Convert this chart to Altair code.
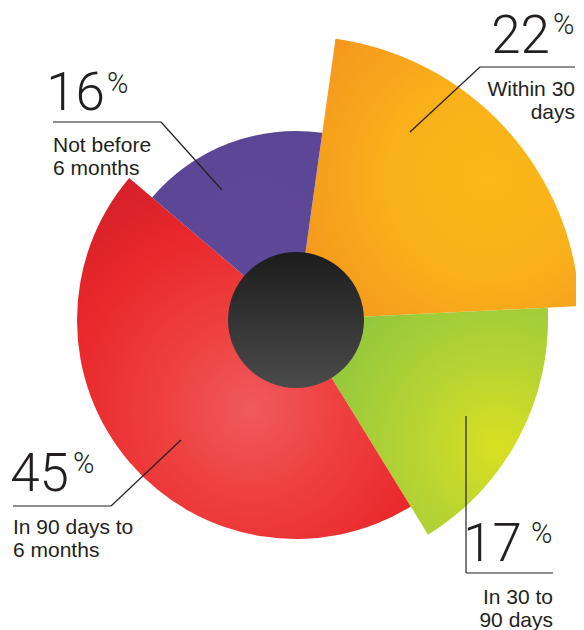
import math
import altair as alt
import pandas as pd

# ---- data ----
categories = ["Within 30 days", "In 30 to 90 days", "In 90 days to 6 months", "Not before 6 months"]
label_text = ["Within 30\ndays", "In 30 to\n90 days", "In 90 days to\n6 months", "Not before\n6 months"]
values = [22, 17, 45, 16]

# ---- layout / style (page coordinates) ----
OFF = 8  # page margin
VIEW_W, VIEW_H = 568, 622
CX, CY = 296 - OFF, 320 - OFF
START_DEG = 8
outer_radius = {"Within 30 days": 284, "In 30 to 90 days": 252,
                "In 90 days to 6 months": 219, "Not before 6 months": 189}
fills = {
    "Within 30 days": alt.RadialGradient(
        gradient="radial", x1=0.68, y1=0.5, r1=0, x2=0.68, y2=0.5, r2=0.8,
        stops=[alt.GradientStop(color="#fbb817", offset=0),
               alt.GradientStop(color="#f9b01a", offset=0.45),
               alt.GradientStop(color="#f4921f", offset=1)]),
    "In 30 to 90 days": alt.RadialGradient(
        gradient="radial", x1=0.8, y1=0.6, r1=0, x2=0.8, y2=0.6, r2=0.8,
        stops=[alt.GradientStop(color="#d9e021", offset=0),
               alt.GradientStop(color="#b5d334", offset=0.45),
               alt.GradientStop(color="#8cc63f", offset=1)]),
    "In 90 days to 6 months": alt.RadialGradient(
        gradient="radial", x1=0.52, y1=0.64, r1=0, x2=0.52, y2=0.64, r2=0.68,
        stops=[alt.GradientStop(color="#f05a5e", offset=0),
               alt.GradientStop(color="#ee4140", offset=0.35),
               alt.GradientStop(color="#e9282b", offset=0.75),
               alt.GradientStop(color="#d8212a", offset=1)]),
    "Not before 6 months": alt.RadialGradient(
        gradient="radial", x1=0.6, y1=0.6, r1=0, x2=0.6, y2=0.6, r2=0.7,
        stops=[alt.GradientStop(color="#5f4899", offset=0),
               alt.GradientStop(color="#5a4694", offset=1)]),
}
layout = {
    "Within 30 days": dict(num=(550, 53), pct=(553, 34), lab=(575, 96), side="right",
                           leader=[(410, 132), (480, 67), (575, 67)]),
    "In 30 to 90 days": dict(num=(522, 561), pct=(531, 543), lab=(553, 604), side="right",
                             leader=[(466, 416), (466, 573), (553, 573)]),
    "In 90 days to 6 months": dict(num=(69, 491), pct=(73, 473), lab=(13, 534), side="left",
                                   leader=[(181, 440), (111, 506), (13, 506)]),
    "Not before 6 months": dict(num=(105, 110), pct=(107, 93), lab=(53, 152), side="left",
                                leader=[(222, 190), (161, 122), (53, 122)]),
}

TEXT_COLOR = "#231f20"
NUM_FONT = "Roboto"
LAB_FONT = "Liberation Sans Narrow, Liberation Sans, Arial, sans-serif"

# ---- tables ----
df = pd.DataFrame({"category": categories, "label": label_text, "value": values})
df["end"] = df["value"].cumsum()
df["start"] = df["end"] - df["value"]
df["num"] = df["value"].astype(str)
df["pctsign"] = "%"
for key in ["nx", "ny", "px", "py", "lx", "ly"]:
    df[key] = 0.0
df["side"] = ""
for i, c in enumerate(categories):
    L = layout[c]
    df.loc[i, "nx"], df.loc[i, "ny"] = L["num"][0] - OFF, L["num"][1] - OFF
    df.loc[i, "px"], df.loc[i, "py"] = L["pct"][0] - OFF, L["pct"][1] - OFF
    df.loc[i, "lx"], df.loc[i, "ly"] = L["lab"][0] - OFF, L["lab"][1] - OFF
    df.loc[i, "side"] = L["side"]

segs = []
for c in categories:
    pts = layout[c]["leader"]
    for a, b in zip(pts[:-1], pts[1:]):
        segs.append({"category": c, "x": a[0] - OFF, "y": a[1] - OFF,
                     "x2": b[0] - OFF, "y2": b[1] - OFF})
seg_df = pd.DataFrame(segs)

start_rad = math.radians(START_DEG)
theta_scale = alt.Scale(domain=[0, sum(values)], range=[start_rad, start_rad + 2 * math.pi])

base = alt.Chart(df)
wedges = []
for c in categories:
    wedges.append(
        base.transform_filter(alt.datum.category == c)
        .mark_arc(radius=outer_radius[c], fill=fills[c], stroke=None)
        .encode(
            theta=alt.Theta("start:Q", scale=theta_scale),
            theta2="end:Q",
            x=alt.value(CX),
            y=alt.value(CY),
            tooltip=["category:N", "value:Q"],
        )
    )

hub = alt.Chart(pd.DataFrame({"k": [0]})).mark_arc(
    radius=68, theta=0, theta2=2 * math.pi,
    fill=alt.LinearGradient(gradient="linear", x1=0, y1=0, x2=0, y2=1,
                            stops=[alt.GradientStop(color="#1c1c1c", offset=0),
                                   alt.GradientStop(color="#4b4b4b", offset=1)]),
).encode(x=alt.value(CX), y=alt.value(CY))

leaders = alt.Chart(seg_df).mark_rule(color=TEXT_COLOR, strokeWidth=1.2).encode(
    x=alt.X("x:Q", scale=None), y=alt.Y("y:Q", scale=None),
    x2="x2:Q", y2="y2:Q",
)

nums = base.mark_text(font=NUM_FONT, fontWeight=300, fontSize=53, align="right",
                      baseline="alphabetic", color=TEXT_COLOR).encode(
    x=alt.X("nx:Q", scale=None), y=alt.Y("ny:Q", scale=None), text="num:N")
pcts = base.mark_text(font=NUM_FONT, fontWeight=300, fontSize=29, align="left",
                      baseline="alphabetic", color=TEXT_COLOR).encode(
    x=alt.X("px:Q", scale=None), y=alt.Y("py:Q", scale=None), text="pctsign:N")

labs = []
for side in ["left", "right"]:
    labs.append(
        base.transform_filter(alt.datum.side == side)
        .mark_text(font=LAB_FONT, fontSize=21, align=side, baseline="alphabetic",
                   lineBreak="\n", lineHeight=23, color=TEXT_COLOR)
        .encode(x=alt.X("lx:Q", scale=None), y=alt.Y("ly:Q", scale=None), text="label:N")
    )

chart = alt.layer(*wedges, hub, leaders, nums, pcts, *labs).properties(
    width=VIEW_W, height=VIEW_H, padding=0, autosize="none",
    background="white",
).configure_view(stroke=None)

chart.save("out.html", embed_options={"renderer": "svg", "actions": False})
